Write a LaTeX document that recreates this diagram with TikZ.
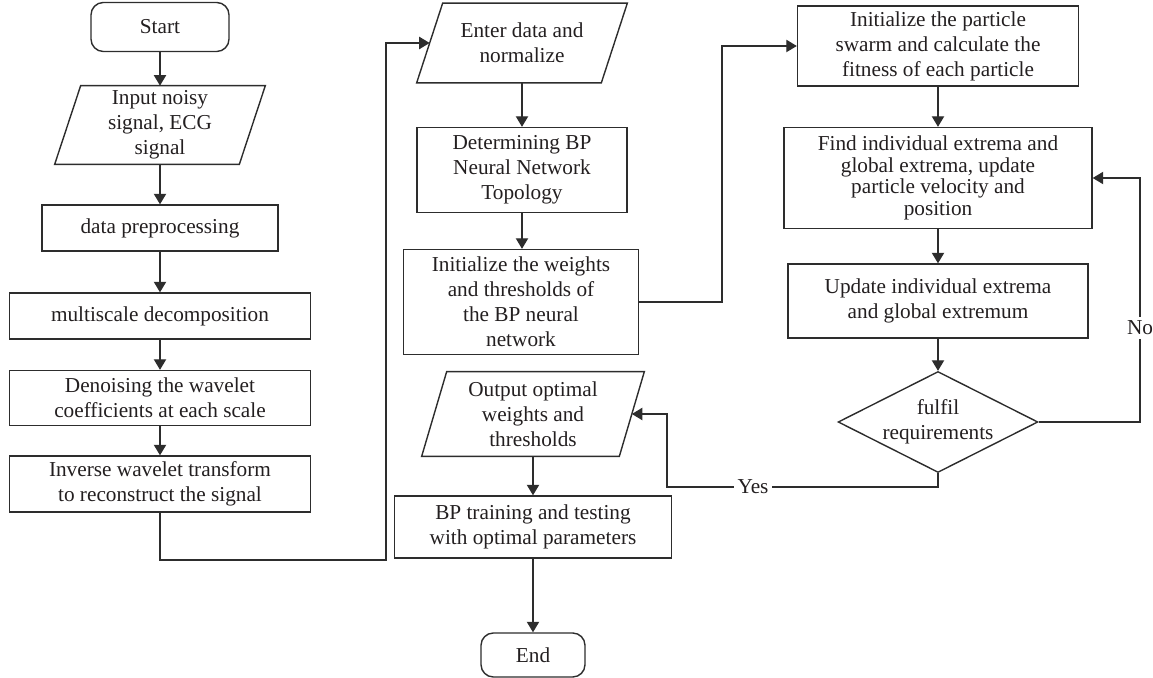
\documentclass[tikz,border=0pt]{standalone}
\usepackage{xcolor}
\usepackage{fontspec}
\setmainfont{Liberation Serif}
\usetikzlibrary{positioning,shapes.geometric,arrows.meta,calc}
\definecolor{lineclr}{RGB}{45,45,45}
\definecolor{textclr}{RGB}{35,31,32}

\tikzset{
  base/.style={inner sep=0pt, align=center, text=textclr,
    font=\fontsize{12.1}{14.2}\selectfont},
  process/.style={base, draw=lineclr, line width=0.8pt, rectangle},
  terminal/.style={process, rounded corners=7pt},
  io/.style={base},
  decision/.style={base, draw=lineclr, line width=0.8pt, diamond, aspect=2},
  link/.style={draw=lineclr, line width=0.8pt},
  flow/.style={link, -{Triangle[length=6pt,width=7pt]}},
  tag/.style={base, fill=white, inner sep=2pt},
}

\begin{document}
\begin{tikzpicture}[x=0.02cm, y=-0.02cm]
  \useasboundingbox (0,0) rectangle (1153,678);

  % wavelet denoising
  \node[terminal, minimum width=2.76cm, minimum height=0.98cm] (start) at (160,27) {Start};
  \node[io, minimum width=3.68cm, minimum height=1.56cm] (input) at (160,125) {Input noisy\\signal, ECG\\signal};
  \node[process, minimum width=4.72cm, minimum height=0.92cm] (prep) at (160,228) {data preprocessing};
  \node[process, minimum width=6.02cm, minimum height=0.92cm] (multi) at (160,316) {multiscale decomposition};
  \node[process, minimum width=6.02cm, minimum height=1.10cm] (denoise) at (160,398) {Denoising the wavelet\\coefficients at each scale};
  \node[process, minimum width=6.02cm, minimum height=1.12cm] (inverse) at (160,484) {Inverse wavelet transform\\to reconstruct the signal};

  % BP network
  \node[io, minimum width=3.68cm, minimum height=1.58cm] (enter) at (522,43) {Enter data and\\normalize};
  \node[process, minimum width=4.2cm, minimum height=1.7cm] (topo) at (522,170) {Determining BP\\Neural Network\\Topology};
  \node[process, minimum width=4.7cm, minimum height=2.1cm] (initw) at (521,302) {Initialize the weights\\and thresholds of\\the BP neural\\network};
  \node[io, minimum width=3.94cm, minimum height=1.68cm] (output) at (533,414) {Output optimal\\weights and\\thresholds};
  \node[process, minimum width=5.54cm, minimum height=1.24cm] (train) at (533,527) {BP training and testing\\with optimal parameters};
  \node[terminal, minimum width=2.08cm, minimum height=0.88cm] (stop) at (533,655) {End};

  % particle swarm
  \node[process, minimum width=5.62cm, minimum height=1.6cm] (swarm) at (938,46) {Initialize the particle\\swarm and calculate the\\fitness of each particle};
  \node[process, minimum width=6.16cm, minimum height=2.02cm, font=\fontsize{12.1}{12.2}\selectfont] (find) at (938,178) {Find individual extrema and\\global extrema, update\\particle velocity and\\position};
  \node[process, minimum width=6.0cm, minimum height=1.48cm] (update) at (938,301) {Update individual extrema\\and global extremum};
  \node[decision, minimum width=3.98cm, minimum height=2.02cm] (check) at (938,422) {fulfil\\requirements};

  % parallelogram outlines
  \foreach \p/\s in {input/13, enter/13, output/12.5}
    \draw[link] ($(\p.north west)+(\s,0)$) -- ($(\p.north east)+(\s,0)$)
      -- ($(\p.south east)-(\s,0)$) -- ($(\p.south west)-(\s,0)$) -- cycle;

  \coordinate (c1) at (386,560);
  \coordinate (c2) at (722,0);
  \coordinate (c3) at (1140,0);
  \coordinate (c4) at (667,487);

  \draw[flow] (start) -- (input);
  \draw[flow] (input) -- (prep);
  \draw[flow] (prep) -- (multi);
  \draw[flow] (multi) -- (denoise);
  \draw[flow] (denoise) -- (inverse);
  \draw[flow] (inverse.south) |- (c1) |- (enter.west);
  \draw[flow] (enter) -- (topo);
  \draw[flow] (topo.south) -- (topo.south |- initw.north);
  \draw[flow] (initw.east) -- (initw.east -| c2) |- (swarm.west);
  \draw[flow] (swarm) -- (find);
  \draw[flow] (find) -- (update);
  \draw[flow] (update) -- (check);
  \draw[flow] (check.east) -- (check.east -| c3) |- (find.east);
  \draw[flow] (check.south) |- (c4) |- (output.east);
  \draw[flow] (output) -- (train);
  \draw[flow] (train) -- (stop);

  \node[tag] (no) at (1140,328) {No};
  \node[tag] (yes) at (753,487) {Yes};
\end{tikzpicture}
\end{document}
